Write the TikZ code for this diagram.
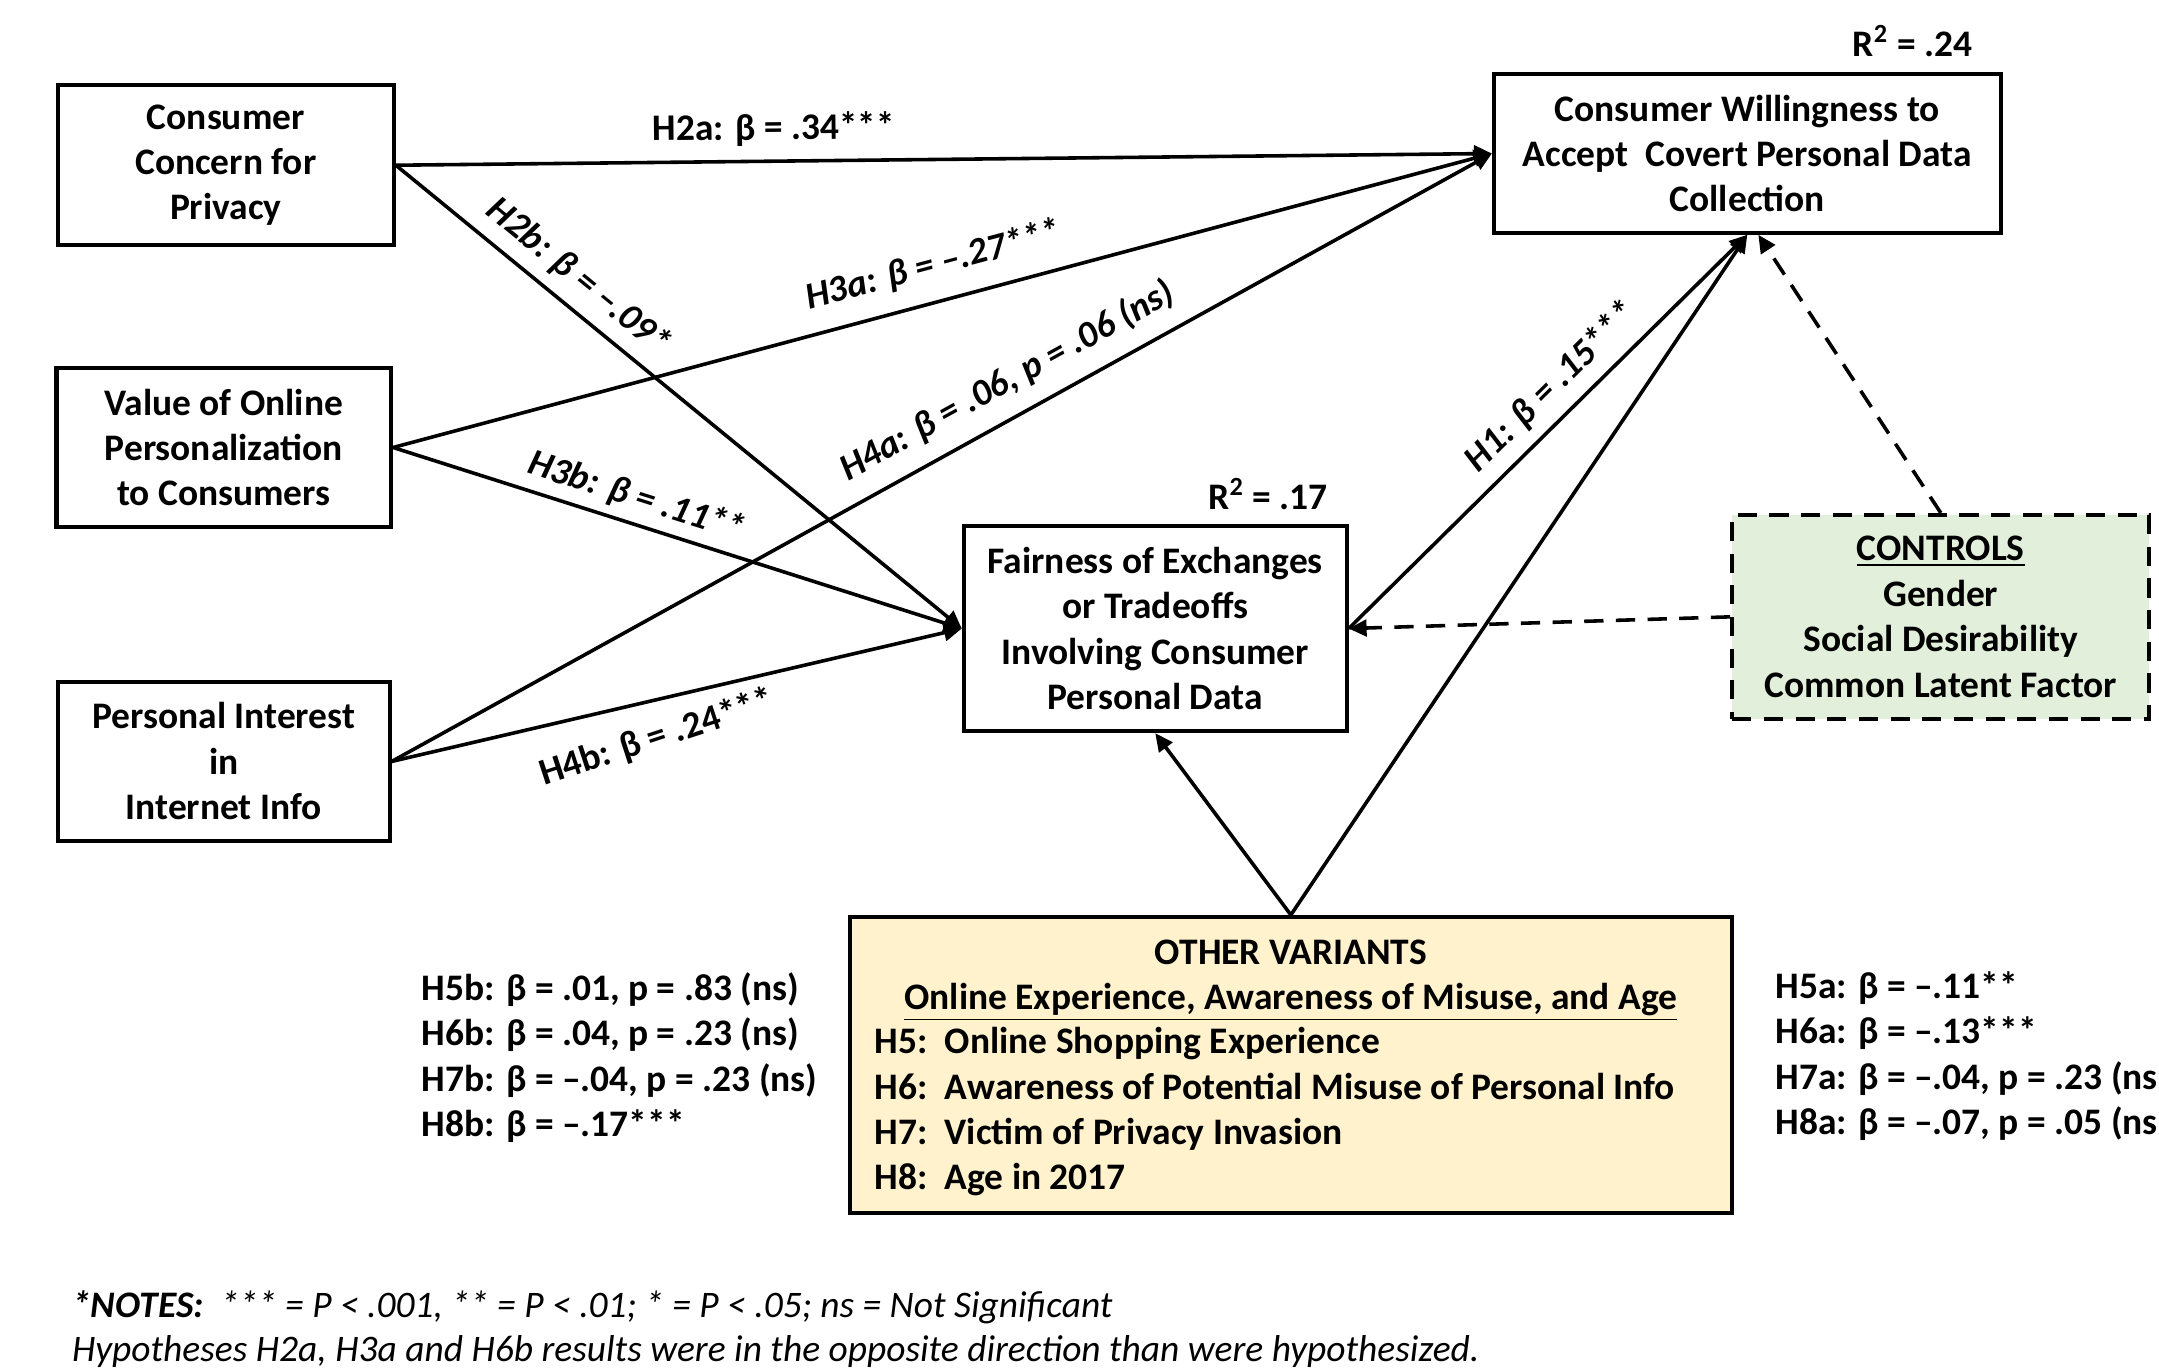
\documentclass[tikz,border=0pt]{standalone}
\usepackage{fontspec}
\setmainfont{Carlito}
\usetikzlibrary{arrows.meta}
\definecolor{ctrlgreen}{HTML}{E2EFDA}
\definecolor{varyellow}{HTML}{FFF2CC}
\begin{document}
\begin{tikzpicture}[x=0.5pt,y=-0.5pt,
  every node/.style={font=\bfseries\fontsize{13.6}{16.5}\selectfont, inner sep=0pt},
  box/.style={draw, line width=1.5pt, align=center},
  link/.style={line width=1.3pt, -{Triangle[length=6.5pt,width=6pt]}},
  dlink/.style={link, dash pattern=on 7pt off 4.5pt},
  lab/.style={sloped, above, inner sep=3pt},
  stats/.style={anchor=west, align=left},
]
\useasboundingbox (0,0) rectangle (1568,994);

% source constructs
\node[box, minimum width=122pt, minimum height=58pt] (cc) at (164,120) {Consumer\\Concern for\\Privacy};
\node[box, minimum width=121.5pt, minimum height=58pt] (vp) at (162.5,325) {Value of Online\\Personalization\\to Consumers};
\node[box, minimum width=120.5pt, minimum height=58pt] (pi) at (162.5,553) {Personal Interest\\in\\Internet Info};

% outcome constructs
\node[box, minimum width=184pt, minimum height=57.5pt] (wa) at (1269,111.5) {Consumer Willingness to\\Accept\ \ Covert Personal Data\\Collection};
\node[box, minimum width=139pt, minimum height=74.5pt] (fe) at (839,456.5) {Fairness of Exchanges\\or Tradeoffs\\Involving Consumer\\Personal Data};
\node (r2w) at (1389,30) {R\textsuperscript{2} = .24};
\node (r2f) at (921,359) {R\textsuperscript{2} = .17};

% control variables
\node[box, dash pattern=on 7pt off 4.5pt, fill=ctrlgreen, minimum width=151.5pt, minimum height=74pt] (ct) at (1409.5,448) {\underline{CONTROLS}\\Gender\\Social Desirability\\Common Latent Factor};

% other variants
\node[box, fill=varyellow, minimum width=320.5pt, minimum height=107.5pt] (ov) at (937.5,773.5) {};
\node[align=center] (ovhead) at (937.5,712) {OTHER VARIANTS\\\underline{Online Experience, Awareness of Misuse, and Age}};
\node[stats] (ovlist) at (635,807.5) {H5:\ \ Online Shopping Experience\\H6:\ \ Awareness of Potential Misuse of Personal Info\\H7:\ \ Victim of Privacy Invasion\\H8:\ \ Age in 2017};

% path estimates for the variants
\node[stats] (bstats) at (306,768) {H5b: β = .01, p = .83 (ns)\\H6b: β = .04, p = .23 (ns)\\H7b: β = –.04, p = .23 (ns)\\H8b: β = –.17***};
\node[stats] (astats) at (1289,767) {H5a: β = –.11**\\H6a: β = –.13***\\H7a: β = –.04, p = .23 (ns\\H8a: β = –.07, p = .05 (ns};

% structural paths
\draw[link] (cc.east) -- node[lab, pos=0.345, inner sep=5pt] {H2a: β = .34***} (wa.west);
\draw[link] (cc.east) -- node[lab, pos=0.29, inner sep=4pt] {\itshape H2b: β = –.09*} (fe.west);
\draw[link] (vp.east) -- node[lab, pos=0.5, inner sep=6.5pt] {\itshape H3a: β = –.27***} (wa.west);
\draw[link] (vp.east) -- node[lab, pos=0.414] {\itshape H3b: β = .11**} (fe.west);
\draw[link] (pi.east) -- node[lab, pos=0.575, inner sep=6pt] {\itshape H4a: β = .06, p = .06 (ns)} (wa.west);
\draw[link] (pi.east) -- node[lab, below, pos=0.445, inner sep=7pt, rotate=5] {H4b: β = .24***} (fe.west);
\draw[link] (fe.east) -- node[lab, pos=0.56, inner sep=4pt] {\itshape H1: β = .15***} (wa.south);
\draw[link] (ov.north) -- (fe.south);
\draw[link] (ov.north) -- (wa.south);
\draw[dlink] (ct.north) -- ([xshift=4pt]wa.south);
\draw[dlink] (ct.west) -- (fe.east);

% notes
\node[anchor=west, align=left, font=\mdseries\itshape\fontsize{13.6}{16}\selectfont] (notes) at (52,965)
  {{\bfseries *NOTES:}\ \ *** = P < .001, ** = P < .01; * = P < .05; ns = Not Significant\\Hypotheses H2a, H3a and H6b results were in the opposite direction than were hypothesized.};
\end{tikzpicture}
\end{document}
